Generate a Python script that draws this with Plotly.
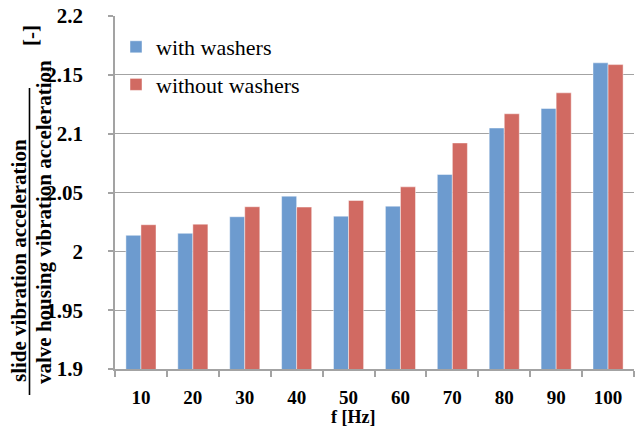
import plotly.graph_objects as go

# Excitation frequencies and acceleration ratios (slide / valve housing)
freq_labels = ["10", "20", "30", "40", "50", "60", "70", "80", "90", "100"]
with_washers = [2.0136, 2.0153, 2.0294, 2.0469, 2.0299, 2.0384, 2.0653, 2.1048, 2.1214, 2.1602]
without_washers = [2.0226, 2.0231, 2.0379, 2.0376, 2.0432, 2.0548, 2.0921, 2.1169, 2.1347, 2.1587]

y_ticks = [1.9, 1.95, 2.0, 2.05, 2.1, 2.15, 2.2]
y_tick_text = ["1.9", "1.95", "2", "2.05", "2.1", "2.15", "2.2"]

SERIF = "Liberation Serif, Times New Roman, serif"
BLUE = "#6d9bcf"
RED = "#d16a62"
GRID = "#a3a3a3"

fig = go.Figure()
fig.add_trace(go.Bar(
    x=freq_labels, y=with_washers, name="with washers", legendgroup="a",
    marker=dict(color=BLUE, line=dict(color="rgba(255,255,255,0.45)", width=1)),
))
fig.add_trace(go.Bar(
    x=freq_labels, y=without_washers, name="without washers", legendgroup="b",
    marker=dict(color=RED, line=dict(color="rgba(255,255,255,0.45)", width=1)),
))

L, R, T, B = 115, 5, 16, 60
W, H = 639, 429
pw = W - L - R
ph = H - T - B

def px_x(p):
    return (p - L) / pw

def px_y(p):
    return (H - B - p) / ph

fig.update_layout(
    width=W, height=H,
    margin=dict(l=L, r=R, t=T, b=B, pad=0),
    paper_bgcolor="white", plot_bgcolor="white",
    barmode="group", bargap=0.42, bargroupgap=0.0,
    font=dict(family=SERIF, color="black"),
    showlegend=True,
    legend=dict(
        x=px_x(116), y=px_y(26), xanchor="left", yanchor="top",
        bgcolor="rgba(0,0,0,0)", borderwidth=0,
        font=dict(family=SERIF, size=22, color="black"),
        tracegroupgap=6, itemwidth=30,
    ),
    xaxis=dict(
        type="category",
        showline=True, linecolor=GRID, linewidth=1.5,
        ticks="outside", tickson="boundaries", ticklen=6, tickcolor=GRID, tickwidth=1.5,
        tickfont=dict(family=SERIF, size=19, color="black", weight="bold"),
        ticklabelstandoff=10,
        showgrid=False, fixedrange=True,
    ),
    yaxis=dict(
        range=[1.9, 2.2],
        tickvals=y_ticks, ticktext=y_tick_text,
        showline=True, linecolor=GRID, linewidth=1.5,
        ticks="outside", ticklen=5, tickcolor=GRID, tickwidth=1.5,
        tickfont=dict(family=SERIF, size=21, color="black", weight="bold"),
        ticklabelstandoff=21,
        showgrid=True, gridcolor=GRID, gridwidth=1.3,
        zeroline=False, fixedrange=True,
    ),
)

# Y-axis title written as a fraction: numerator, bar, denominator, unit
title_font = dict(family=SERIF, size=21, color="black", weight="bold")
fig.add_annotation(
    text="slide vibration acceleration", textangle=-90,
    xref="paper", yref="paper", x=px_x(19), y=px_y(261),
    xanchor="center", yanchor="middle", showarrow=False, font=title_font,
)
fig.add_annotation(
    text="valve housing vibration acceleration", textangle=-90,
    xref="paper", yref="paper", x=px_x(44), y=px_y(222),
    xanchor="center", yanchor="middle", showarrow=False, font=title_font,
)
fig.add_annotation(
    text="[-]", textangle=-90,
    xref="paper", yref="paper", x=px_x(31), y=px_y(36),
    xanchor="center", yanchor="middle", showarrow=False, font=title_font,
)
fig.add_shape(
    type="line", xref="paper", yref="paper",
    x0=px_x(29.5), x1=px_x(29.5), y0=px_y(395), y1=px_y(88),
    line=dict(color="black", width=1.6),
)

# X-axis title
fig.add_annotation(
    text="f [Hz]",
    xref="paper", yref="paper", x=px_x(353), y=px_y(417),
    xanchor="center", yanchor="middle", showarrow=False,
    font=dict(family=SERIF, size=18, color="black", weight="bold"),
)

fig.write_html("out.html")
